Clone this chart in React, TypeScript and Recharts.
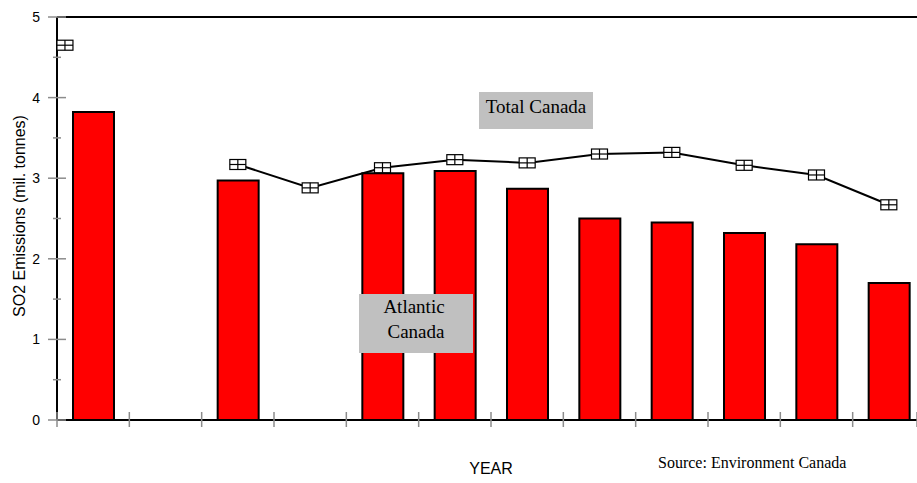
import React from "react";
import { ComposedChart, Bar, Line, XAxis, YAxis, ReferenceLine } from "recharts";

// x positions on a 0..12 slot scale (years are unlabelled in the original)
const BAR_SLOTS = [0.5, 2.5, 4.5, 5.5, 6.5, 7.5, 8.5, 9.5, 10.5, 11.5];
const LINE_SLOTS = [0.11, 1.5, 2.5, 3.5, 4.5, 5.5, 6.5, 7.5, 8.5, 9.5, 10.5, 11.5];
// SO2 emissions, million tonnes
const ATLANTIC = [3.82, 2.97, 3.06, 3.09, 2.87, 2.5, 2.45, 2.32, 2.18, 1.7];
const TOTAL = [4.65, null, 3.17, 2.88, 3.13, 3.23, 3.19, 3.3, 3.32, 3.16, 3.04, 2.67];

const Y_TICKS = [0, 0.5, 1, 1.5, 2, 2.5, 3, 3.5, 4, 4.5, 5];
const X_TICKS = [0, 1, 2, 3, 4, 5, 6, 7, 8, 9, 10, 11, 12];

const barData = BAR_SLOTS.map((x, i) => ({ x, atlantic: ATLANTIC[i] }));
const lineData = LINE_SLOTS.map((x, i) => ({ x, total: TOTAL[i] }));

const SANS = "'Liberation Sans', Arial, sans-serif";
const SERIF = "'Liberation Serif', 'Times New Roman', serif";

const YTick = ({ x, y, payload }: any) => {
  const major = Number.isInteger(payload.value);
  const half = major ? 9 : 4;
  return (
    <g>
      <line x1={x - half} x2={x + half} y1={y} y2={y} stroke="#8c8c8c" strokeWidth={1.5} />
      {major && (
        <text x={x - 17} y={y + 5} textAnchor="end" fontSize={14} fontFamily={SANS} fill="#000">
          {payload.value}
        </text>
      )}
    </g>
  );
};

const XTick = ({ x, y }: any) => (
  <line x1={x} x2={x} y1={y - 8} y2={y + 7} stroke="#8c8c8c" strokeWidth={1.5} />
);

const BoxDot = ({ cx, cy }: any) => {
  if (cx == null || cy == null) return null;
  return (
    <g>
      <rect x={cx - 8} y={cy - 5} width={16} height={10} fill="#fff" stroke="#000" strokeWidth={1.2} />
      <line x1={cx - 8} x2={cx + 8} y1={cy} y2={cy} stroke="#000" strokeWidth={1.2} />
      <line x1={cx} x2={cx} y1={cy - 5} y2={cy + 5} stroke="#000" strokeWidth={1.2} />
    </g>
  );
};

export default function App() {
  return (
    <div
      style={{
        position: "absolute",
        left: 0,
        top: 0,
        width: 917,
        height: 483,
        overflow: "hidden",
        background: "#fff",
      }}
    >
      <ComposedChart width={925} height={483} data={barData} margin={{ top: 17, right: 0, left: 0, bottom: 0 }}>
        <ReferenceLine y={5} stroke="#000" strokeWidth={2} />
        <XAxis
          dataKey="x"
          type="number"
          domain={[0, 12]}
          ticks={X_TICKS}
          height={63}
          tick={<XTick />}
          tickLine={false}
          tickSize={0}
          tickMargin={0}
          axisLine={{ stroke: "#000", strokeWidth: 2 }}
          label={{ value: "YEAR", position: "insideBottom", offset: 9, fontSize: 16, fontFamily: SANS, fill: "#000" }}
        />
        <XAxis xAxisId="line" dataKey="x" type="number" domain={[0, 12]} hide />
        <YAxis
          type="number"
          domain={[0, 5]}
          ticks={Y_TICKS}
          width={57}
          tick={<YTick />}
          tickLine={false}
          tickSize={0}
          tickMargin={0}
          axisLine={{ stroke: "#000", strokeWidth: 2 }}
        />
        <Bar dataKey="atlantic" barSize={41} fill="#ff0000" stroke="#000" strokeWidth={2} isAnimationActive={false} />
        <Line
          xAxisId="line"
          data={lineData}
          dataKey="total"
          type="linear"
          stroke="#000"
          strokeWidth={2}
          dot={<BoxDot />}
          activeDot={false}
          connectNulls={false}
          isAnimationActive={false}
        />
      </ComposedChart>
      <svg
        width={917}
        height={483}
        style={{ position: "absolute", left: 0, top: 0, pointerEvents: "none" }}
      >
        <text
          transform="translate(25,216) rotate(-90)"
          textAnchor="middle"
          fontSize={16}
          fontFamily={SANS}
          fill="#000"
        >
          SO2 Emissions (mil. tonnes)
        </text>
        <rect x={479} y={92} width={114} height={37} fill="#c0c0c0" />
        <text x={536} y={113} textAnchor="middle" fontSize={19} fontFamily={SERIF} fill="#000">
          Total Canada
        </text>
        <rect x={359} y={294} width={114} height={59} fill="#c0c0c0" />
        <text x={414} y={313} textAnchor="middle" fontSize={19} fontFamily={SERIF} fill="#000">
          Atlantic
        </text>
        <text x={416} y={338} textAnchor="middle" fontSize={19} fontFamily={SERIF} fill="#000">
          Canada
        </text>
        <text x={658} y={468} fontSize={16} fontFamily={SERIF} fill="#000">
          Source: Environment Canada
        </text>
      </svg>
    </div>
  );
}
